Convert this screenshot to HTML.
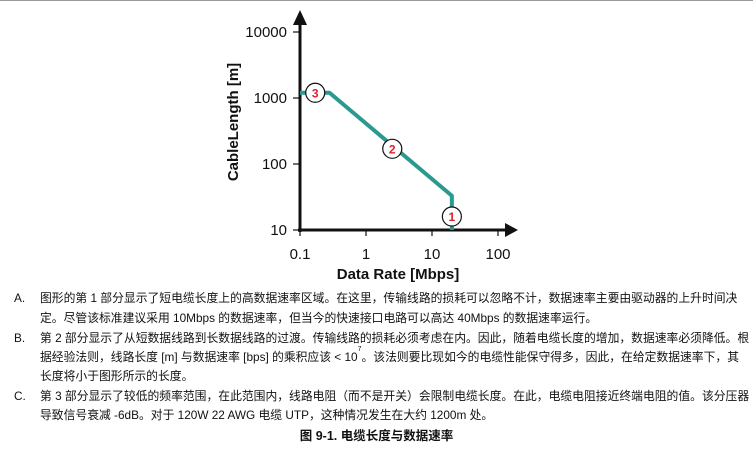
<!DOCTYPE html>
<html><head><meta charset="utf-8"><style>
body{margin:0;width:753px;height:456px;background:#fff;overflow:hidden;position:relative;font-family:"Liberation Sans","Noto Sans CJK SC",sans-serif;color:#111}
.t{position:absolute;font-size:11.8px;white-space:nowrap;line-height:13px}
sup{font-size:7px;line-height:0;position:relative;top:-1px;vertical-align:top}
</style></head><body>
<div style="position:absolute;left:0;top:0;width:753px;height:1px;background:#999"></div>
<svg width="753" height="285" style="position:absolute;left:0;top:0" font-family="Liberation Sans, sans-serif">
<g id="axes"></g><g id="series"></g>
</svg>
<div class="t" style="left:14px;top:292px">A.</div>
<div class="t" style="left:40px;top:292px">图形的第 1 部分显示了短电缆长度上的高数据速率区域。在这里，传输线路的损耗可以忽略不计，数据速率主要由驱动器的上升时间决</div>
<div class="t" style="left:40px;top:312px">定。尽管该标准建议采用 10Mbps 的数据速率，但当今的快速接口电路可以高达 40Mbps 的数据速率运行。</div>
<div class="t" style="left:14px;top:332px">B.</div>
<div class="t" style="left:40px;top:332px">第 2 部分显示了从短数据线路到长数据线路的过渡。传输线路的损耗必须考虑在内。因此，随着电缆长度的增加，数据速率必须降低。根</div>
<div class="t" style="left:40px;top:351px">据经验法则，线路长度 [m] 与数据速率 [bps] 的乘积应该 &lt; 10<sup>7</sup>。该法则要比现如今的电缆性能保守得多，因此，在给定数据速率下，其</div>
<div class="t" style="left:40px;top:370px">长度将小于图形所示的长度。</div>
<div class="t" style="left:14px;top:390px">C.</div>
<div class="t" style="left:40px;top:390px">第 3 部分显示了较低的频率范围，在此范围内，线路电阻（而不是开关）会限制电缆长度。在此，电缆电阻接近终端电阻的值。该分压器</div>
<div class="t" style="left:40px;top:409px">导致信号衰减 -6dB。对于 120W 22 AWG 电缆 UTP，这种情况发生在大约 1200m 处。</div>
<div class="t" style="left:0;width:753px;text-align:center;top:430px;font-size:12.5px;font-weight:bold">图 9-1. 电缆长度与数据速率</div>
<script>
const xTicks=[0.1,1,10,100];
const xTickLabels=["0.1","1","10","100"];
const yTicks=[10,100,1000,10000];
const yTickLabels=["10","100","1000","10000"];
const lineX=[0.1,0.28,20,20];
const lineY=[1200,1200,33,10];
const markerX=[20,2.5,0.17];
const markerY=[16,170,1200];
const markerLabels=["1","2","3"];
const NS="http://www.w3.org/2000/svg";
function sx(v){return 300+66*(Math.log10(v)+1);}
function sy(v){return 230-66*(Math.log10(v)-1);}
function mk(tag,attrs,parent,txt){const e=document.createElementNS(NS,tag);for(const k in attrs)e.setAttribute(k,attrs[k]);if(txt!==undefined)e.textContent=txt;parent.appendChild(e);return e;}
const ax=document.getElementById('axes'),se=document.getElementById('series');
let e;
e=mk('line',{x1:300,y1:232,x2:300,y2:22,stroke:'#111','stroke-width':3},ax);


e=mk('polygon',{points:'293,25 307,25 300,10',fill:'#111'},ax);


e=mk('line',{x1:298,y1:230,x2:508,y2:230,stroke:'#111','stroke-width':3},ax);


e=mk('polygon',{points:'505,223 505,237 518,230',fill:'#111'},ax);


xTicks.forEach((v,i)=>{const x=sx(v);
e=mk('line',{x1:x,y1:230,x2:x,y2:236,stroke:'#111','stroke-width':1.2},ax);


e=mk('text',{x:x,y:259,'font-size':15,'text-anchor':'middle',fill:'#111'},ax,xTickLabels[i]);

});
yTicks.forEach((v,i)=>{const y=sy(v);
e=mk('line',{x1:293,y1:y,x2:300,y2:y,stroke:'#111','stroke-width':1.2},ax);


e=mk('text',{x:287,y:y+5,'font-size':15,'text-anchor':'end',fill:'#111'},ax,yTickLabels[i]);

});
e=mk('text',{x:398,y:279,'font-size':15,'font-weight':'bold','text-anchor':'middle',fill:'#111'},ax,'Data Rate  [Mbps]');


e=mk('text',{x:0,y:0,'font-size':15,'font-weight':'bold','text-anchor':'middle',fill:'#111',transform:'translate(238,122) rotate(-90)'},ax,'CableLength [m]');


let d=lineX.map((v,i)=>(i?'L':'M')+sx(v)+','+sy(lineY[i])).join(' ');
e=mk('path',{d:d,fill:'none',stroke:'#2a9a90','stroke-width':4,'stroke-linejoin':'round'},se);


markerX.forEach((v,i)=>{const x=sx(v),y=sy(markerY[i]);
e=mk('circle',{cx:x,cy:y,r:9.5,fill:'#fff',stroke:'#111','stroke-width':1.2},se);


e=mk('text',{x:x,y:y+4.5,'font-size':12,'font-weight':'bold','text-anchor':'middle',fill:'#e0202a'},se,markerLabels[i]);

});
</script>
</body></html>
